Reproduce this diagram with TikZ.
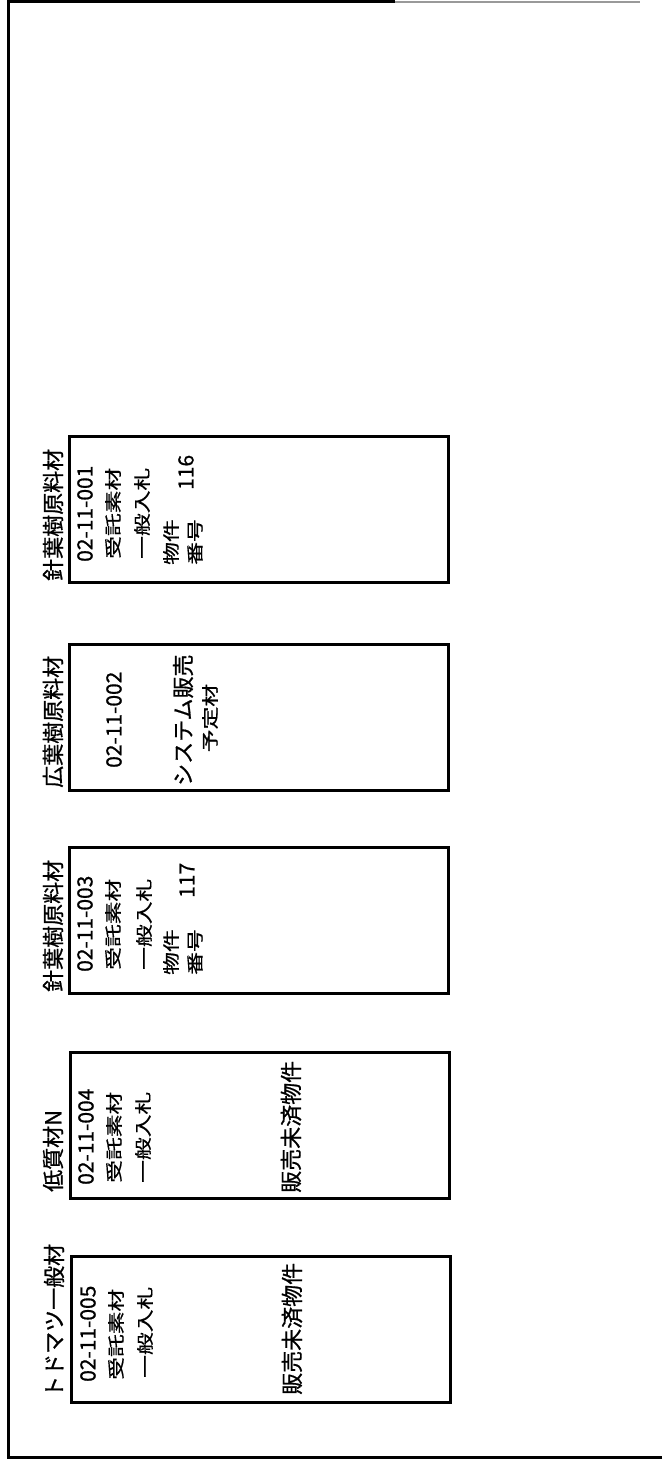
\documentclass[tikz,border=0pt]{standalone}
\usepackage{fontspec}
\newfontfamily\jpfont[FakeBold=0.8]{Noto Sans CJK JP}
\newfontfamily\jpwide[FakeStretch=1.34, FakeBold=0.8]{Noto Sans CJK JP}
\tikzset{
  lot/.style={draw, line width=3pt, minimum width=379pt, minimum height=146pt, inner sep=0pt},
  vtext/.style={rotate=90, anchor=west, inner sep=0pt},
  lotname/.style={vtext, font=\jpfont\fontsize{22}{24}\selectfont},
  lotnum/.style={vtext, font=\jpfont\fontsize{21}{23}\selectfont},
  lotinfo/.style={vtext, font=\jpwide\fontsize{17}{19}\selectfont},
}

\begin{document}
\begin{tikzpicture}[x=1pt, y=-1pt]
    \useasboundingbox (0,0) rectangle (662,1461);
    % sheet frame
    \draw[line width=3pt] (662,1457) -- (8,1457) -- (8,2) -- (395,2);
    \draw[line width=1.5pt, black!40] (395,2) -- (640,2);

    % lot 001
    \node[lot] (lot1) at (258.5,509) {};
    \node[lotname] (name1) at (53,581) {針葉樹原料材};
    \node[lotnum] (id1) at (85,562) {02-11-001};
    \node[lotinfo] (kind1) at (113,559) {受託素材};
    \node[lotinfo] (sale1) at (142,559) {一般入札};
    \node[lotinfo] (item1) at (171,565) {物件};
    \node[lotinfo] (no1) at (195,565) {番号};
    \node[lotnum] (num1) at (186,490) {116};

    % lot 002
    \node[lot] (lot2) at (258.5,717.5) {};
    \node[lotname] (name2) at (53,788) {広葉樹原料材};
    \node[lotnum] (id2) at (114,768) {02-11-002};
    \node[lotname] (note2) at (183,786) {システム販売};
    \node[lotinfo, anchor=center] (plan2) at (210,718) {予定材};

    % lot 003
    \node[lot] (lot3) at (259,920.5) {};
    \node[lotname] (name3) at (53,992) {針葉樹原料材};
    \node[lotnum] (id3) at (85,972) {02-11-003};
    \node[lotinfo] (kind3) at (113,970) {受託素材};
    \node[lotinfo] (sale3) at (144,970) {一般入札};
    \node[lotinfo] (item3) at (171,975) {物件};
    \node[lotinfo] (no3) at (195,975) {番号};
    \node[lotnum] (num3) at (187,898) {117};

    % lot 004
    \node[lot] (lot4) at (259.5,1125.5) {};
    \node[lotname] (name4) at (53,1192) {低質材N};
    \node[lotnum] (id4) at (86,1185) {02-11-004};
    \node[lotinfo] (kind4) at (114,1183) {受託素材};
    \node[lotinfo] (sale4) at (143,1183) {一般入札};
    \node[lotname] (note4) at (291,1193) {販売未済物件};

    % lot 005
    \node[lot] (lot5) at (260.5,1329.5) {};
    \node[lotname] (name5) at (54,1398) {トドマツ一般材};
    \node[lotnum] (id5) at (88,1382) {02-11-005};
    \node[lotinfo] (kind5) at (116,1380) {受託素材};
    \node[lotinfo] (sale5) at (145,1378) {一般入札};
    \node[lotname] (note5) at (292,1395) {販売未済物件};
\end{tikzpicture}
\end{document}
